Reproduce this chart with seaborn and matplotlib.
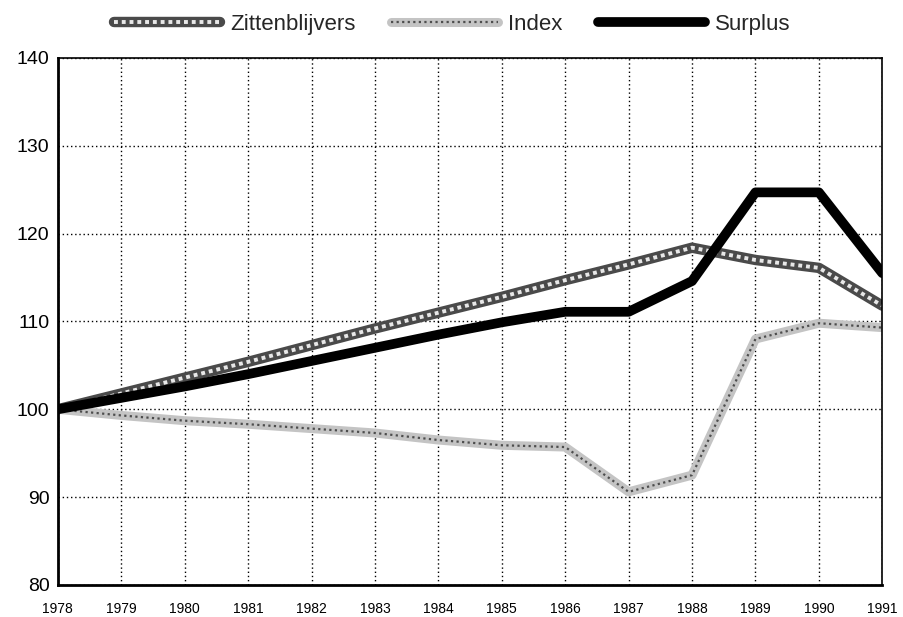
import pandas as pd
import matplotlib
matplotlib.use('Agg')
import matplotlib.pyplot as plt
from matplotlib.legend_handler import HandlerTuple
import seaborn as sns

# values
years = [1978, 1979, 1980, 1981, 1982, 1983, 1984, 1985, 1986, 1987, 1988, 1989, 1990, 1991]
zittenblijvers = [100, 101.8, 103.6, 105.4, 107.3, 109.2, 111.0, 112.8, 114.7, 116.5, 118.4, 117.0, 116.1, 111.8]
index_vals = [100, 99.3, 98.7, 98.3, 97.8, 97.3, 96.5, 95.9, 95.7, 90.6, 92.5, 108.0, 109.8, 109.3]
surplus = [100, 101.3, 102.6, 104.0, 105.5, 107.0, 108.5, 109.9, 111.1, 111.1, 114.6, 124.7, 124.7, 115.5]
series_names = ['Zittenblijvers', 'Index', 'Surplus']

df = pd.DataFrame({'Jaar': years, 'Zittenblijvers': zittenblijvers,
                   'Index': index_vals, 'Surplus': surplus})

sns.set_theme(style='white')
plt.rcParams['font.family'] = ['Liberation Sans', 'DejaVu Sans']

fig = plt.figure(figsize=(9.04, 6.17), dpi=100)
ax = fig.add_axes([0.064, 0.052, 0.912, 0.854])

# Zittenblijvers: dark hatched band
sns.lineplot(data=df, x='Jaar', y='Zittenblijvers', ax=ax, color='#4a4a4a',
             linewidth=7.5, legend=False)
sns.lineplot(data=df, x='Jaar', y='Zittenblijvers', ax=ax, color='#e8e8e8',
             linewidth=2.8, linestyle=(0, (1.0, 1.0)), legend=False)
# Index: light dotted band
sns.lineplot(data=df, x='Jaar', y='Index', ax=ax, color='#c4c4c4',
             linewidth=6.5, legend=False)
sns.lineplot(data=df, x='Jaar', y='Index', ax=ax, color='#4d4d4d',
             linewidth=1.6, linestyle=(0, (1, 1.5)), legend=False)
# Surplus: solid black
sns.lineplot(data=df, x='Jaar', y='Surplus', ax=ax, color='black',
             linewidth=7, legend=False)

lines = ax.get_lines()
handles = [(lines[0], lines[1]), (lines[2], lines[3]), lines[4]]

ax.set_xlim(1978, 1991)
ax.set_ylim(80, 140)
ax.set_xticks(years)
ax.set_xticklabels([str(y) for y in years], fontsize=10)
ax.set_yticks(range(80, 141, 10))
ax.tick_params(axis='y', labelsize=14, length=3, direction='in', pad=6, colors='black')
ax.tick_params(axis='x', length=3, direction='in', pad=12, colors='black')
ax.set_xlabel('')
ax.set_ylabel('')
ax.grid(True, color='black', linestyle=(0, (1, 2)), linewidth=1)

for side in ['left', 'bottom']:
    ax.spines[side].set_linewidth(2)
for side in ['top', 'right']:
    ax.spines[side].set_linewidth(1.2)
for s in ax.spines.values():
    s.set_color('black')

fig.legend(handles, series_names, loc='center', bbox_to_anchor=(0.5, 0.96), ncol=3,
           frameon=False, fontsize=16, handlelength=4.8, handletextpad=0.45,
           columnspacing=1.6, handler_map={tuple: HandlerTuple(ndivide=1)})

plt.savefig('out.png', dpi=100)
